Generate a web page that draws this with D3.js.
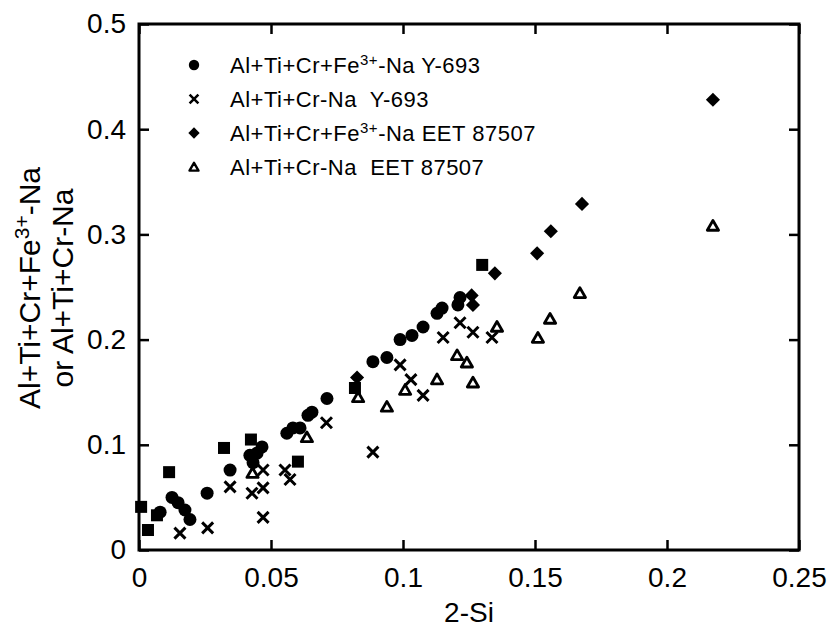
<!DOCTYPE html>
<html>
<head>
<meta charset="utf-8">
<script src="https://cdn.jsdelivr.net/npm/d3@7/dist/d3.min.js"></script>
<style>
  html, body { margin: 0; padding: 0; background: #fff; }
  svg { display: block; font-family: "Liberation Sans", Arial, Helvetica, sans-serif; }
</style>
</head>
<body>
<svg id="chart" width="832" height="637"></svg>
<script>
// ---------- data ----------
const xTicks = [0, 0.05, 0.1, 0.15, 0.2, 0.25];
const xTickLabels = ["0", "0.05", "0.1", "0.15", "0.2", "0.25"];
const yTicks = [0, 0.1, 0.2, 0.3, 0.4, 0.5];
const yTickLabels = ["0", "0.1", "0.2", "0.3", "0.4", "0.5"];

// Al+Ti+Cr+Fe3+-Na  Y-693  (filled circles)
const circlesY693 = [
  [0.0080, 0.036], [0.0125, 0.050], [0.0148, 0.045], [0.0174, 0.038], [0.0193, 0.029],
  [0.0258, 0.054], [0.0345, 0.076], [0.0420, 0.090], [0.0432, 0.083], [0.0447, 0.092],
  [0.0466, 0.098], [0.0560, 0.111], [0.0583, 0.116], [0.0610, 0.116], [0.0640, 0.128],
  [0.0655, 0.131], [0.0712, 0.144], [0.0886, 0.179], [0.0939, 0.183], [0.0989, 0.200],
  [0.1034, 0.204], [0.1076, 0.212], [0.1129, 0.225], [0.1148, 0.230], [0.1208, 0.233],
  [0.1216, 0.240]
];
// Al+Ti+Cr-Na  Y-693  (crosses)
const crossesY693 = [
  [0.0155, 0.016], [0.0260, 0.021], [0.0345, 0.060], [0.0428, 0.054], [0.0470, 0.059],
  [0.0470, 0.076], [0.0470, 0.031], [0.0553, 0.076], [0.0572, 0.067], [0.0710, 0.121],
  [0.0886, 0.093], [0.0989, 0.176], [0.1030, 0.162], [0.1076, 0.147], [0.1152, 0.202],
  [0.1216, 0.216], [0.1265, 0.207], [0.1337, 0.202]
];
// Al+Ti+Cr+Fe3+-Na  EET 87507  (filled diamonds)
const diamondsEET = [
  [0.0826, 0.164], [0.1260, 0.242], [0.1265, 0.233], [0.1348, 0.263], [0.1508, 0.282],
  [0.1560, 0.303], [0.1678, 0.329], [0.2174, 0.428]
];
// Al+Ti+Cr-Na  EET 87507  (open triangles)
const trianglesEET = [
  [0.0430, 0.073], [0.0636, 0.107], [0.0830, 0.145], [0.0939, 0.136], [0.1008, 0.152],
  [0.1129, 0.162], [0.1205, 0.185], [0.1242, 0.178], [0.1265, 0.159], [0.1356, 0.212],
  [0.1511, 0.2015], [0.1557, 0.2196], [0.1670, 0.244], [0.2174, 0.308]
];
// unlabelled filled squares
const squaresOther = [
  [0.0008, 0.041], [0.0034, 0.019], [0.0068, 0.033], [0.0114, 0.074], [0.0322, 0.097],
  [0.0424, 0.105], [0.0602, 0.084], [0.0818, 0.154], [0.1300, 0.271]
];

const legendLabels = [
  { type: "circle",   pre: "Al+Ti+Cr+Fe", sup: "3+", post: "-Na Y-693" },
  { type: "cross",    pre: "Al+Ti+Cr-Na  Y-693", sup: "", post: "" },
  { type: "diamond",  pre: "Al+Ti+Cr+Fe", sup: "3+", post: "-Na EET 87507" },
  { type: "triangle", pre: "Al+Ti+Cr-Na  EET 87507", sup: "", post: "" }
];

// ---------- layout ----------
const svg = d3.select("#chart");
const mLeft = 139, mRight = 799, mTop = 24, mBottom = 550;
const x = d3.scaleLinear().domain([0, 0.25]).range([mLeft, mRight]);
const y = d3.scaleLinear().domain([0, 0.5]).range([mBottom, mTop]);

const fmtX = d => xTickLabels[xTicks.indexOf(d)];
const fmtY = d => yTickLabels[yTicks.indexOf(d)];

function styleAxis(g, showText) {
  g.select(".domain").remove();
  g.selectAll(".tick line").attr("stroke", "#000").attr("stroke-width", 2.5);
  g.selectAll(".tick text").attr("fill", "#000").style("font-size", "28px");
  if (!showText) g.selectAll(".tick text").remove();
}

svg.append("g").attr("transform", `translate(0,${mBottom})`)
  .call(d3.axisBottom(x).tickValues(xTicks).tickFormat(fmtX).tickSize(-10).tickPadding(17))
  .call(g => styleAxis(g, true));
svg.append("g").attr("transform", `translate(0,${mTop})`)
  .call(d3.axisTop(x).tickValues(xTicks).tickSize(-10))
  .call(g => styleAxis(g, false));
svg.append("g").attr("transform", `translate(${mLeft},0)`)
  .call(d3.axisLeft(y).tickValues(yTicks).tickFormat(fmtY).tickSize(-10).tickPadding(13))
  .call(g => styleAxis(g, true));
svg.append("g").attr("transform", `translate(${mRight},0)`)
  .call(d3.axisRight(y).tickValues(yTicks).tickSize(-10))
  .call(g => styleAxis(g, false));

svg.append("rect")
  .attr("x", mLeft).attr("y", mTop)
  .attr("width", mRight - mLeft).attr("height", mBottom - mTop)
  .attr("fill", "none").attr("stroke", "#000").attr("stroke-width", 3);

// ---------- marker drawing ----------
function drawMarker(g, type, cx, cy, s) {
  if (type === "circle") {
    g.append("circle").attr("cx", cx).attr("cy", cy).attr("r", 6.5 * s).attr("fill", "#000");
  } else if (type === "square") {
    const h = 6 * s;
    g.append("rect").attr("x", cx - h).attr("y", cy - h).attr("width", 2 * h).attr("height", 2 * h).attr("fill", "#000");
  } else if (type === "diamond") {
    g.append("path").attr("d", d3.symbol().type(d3.symbolSquare).size(100 * s * s)())
      .attr("transform", `translate(${cx},${cy}) rotate(45)`).attr("fill", "#000");
  } else if (type === "cross") {
    const h = 5.5 * s;
    g.append("path").attr("d", `M${cx - h},${cy - h}L${cx + h},${cy + h}M${cx - h},${cy + h}L${cx + h},${cy - h}`)
      .attr("stroke", "#000").attr("stroke-width", 3 * Math.max(s, 0.85)).attr("fill", "none");
  } else if (type === "triangle") {
    g.append("path").attr("d", d3.symbol().type(d3.symbolTriangle).size(55 * s * s)())
      .attr("transform", `translate(${cx},${cy + 1})`)
      .attr("fill", "#fff").attr("stroke", "#000").attr("stroke-width", 2.8 * Math.max(s, 0.85))
      .attr("stroke-linejoin", "round");
  }
}

const marks = svg.append("g");
const seriesList = [
  { data: squaresOther, type: "square" },
  { data: trianglesEET, type: "triangle" },
  { data: crossesY693, type: "cross" },
  { data: circlesY693, type: "circle" },
  { data: diamondsEET, type: "diamond" }
];
seriesList.forEach(sr => {
  sr.data.forEach(d => drawMarker(marks, sr.type, x(d[0]), y(d[1]), 1));
});

// ---------- legend ----------
const legend = svg.append("g");
const legendRowsY = [65, 99, 133, 167];
legendLabels.forEach((L, i) => {
  const cy = legendRowsY[i];
  drawMarker(legend, L.type, 194, cy, 0.8);
  const t = legend.append("text").attr("x", 230).attr("y", cy + 8)
    .style("font-size", "22px").style("letter-spacing", "0.5px")
    .attr("fill", "#000").style("white-space", "pre");
  t.append("tspan").text(L.pre);
  if (L.sup) {
    t.append("tspan").attr("dy", -8).style("font-size", "15px").text(L.sup);
    t.append("tspan").attr("dy", 8).text(L.post);
  }
});

// ---------- axis titles ----------
svg.append("text")
  .attr("x", (mLeft + mRight) / 2).attr("y", 622)
  .attr("text-anchor", "middle").style("font-size", "28px").text("2-Si");

const yt = svg.append("g").attr("transform", "translate(0,288) rotate(-90)");
const yl1 = yt.append("text").attr("x", 0).attr("y", 40).attr("text-anchor", "middle").style("font-size", "30px");
yl1.append("tspan").text("Al+Ti+Cr+Fe");
yl1.append("tspan").attr("dy", -11).style("font-size", "21px").text("3+");
yl1.append("tspan").attr("dy", 11).text("-Na");
yt.append("text").attr("x", 0).attr("y", 73).attr("text-anchor", "middle").style("font-size", "30px")
  .text("or Al+Ti+Cr-Na");
</script>
</body>
</html>
